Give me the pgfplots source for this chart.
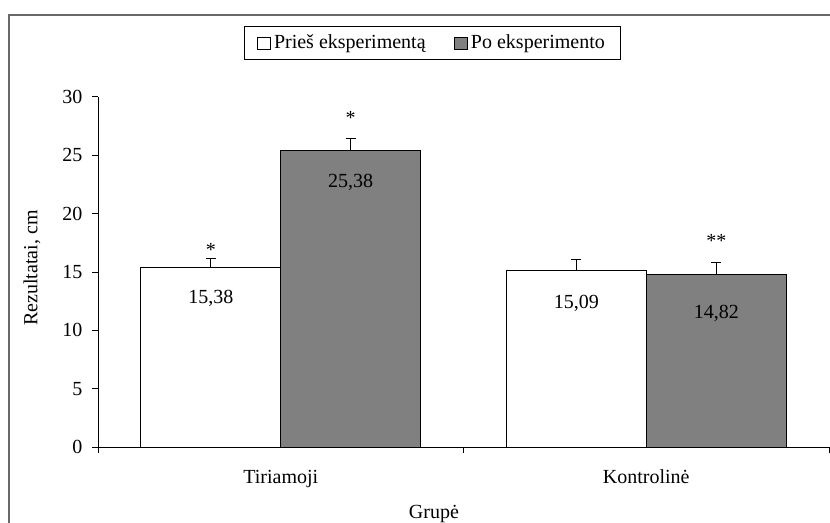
\documentclass[border=0pt]{standalone}
\usepackage{fontspec}
\setmainfont{Liberation Serif}
\usepackage{pgfplots}
\pgfplotsset{compat=1.18}
\definecolor{bargray}{RGB}{128,128,128}
\definecolor{framegray}{RGB}{105,105,105}
\newcommand{\chartfont}{\fontsize{15pt}{18pt}\selectfont}
\begin{document}
\chartfont
\begin{tikzpicture}
\path[use as bounding box] (0pt,0pt) rectangle (622.5pt,-392.25pt);
\draw[framegray, line width=0.8pt] (6.75pt,-400pt) -- (6.75pt,-11.25pt) -- (630pt,-11.25pt);
\begin{axis}[
  at={(73.5pt,-335.25pt)}, anchor=south west,
  scale only axis, width=548.25pt, height=262.5pt,
  xmin=0, xmax=2, ymin=0, ymax=30,
  axis x line*=bottom, axis y line*=left,
  axis line style={line width=0.75pt, -},
  ytick={0,5,10,15,20,25,30},
  xtick={0.5,1.5}, xticklabels={Tiriamoji,Kontrolinė},
  minor xtick={0,1,2},
  major x tick style={draw=none},
  tick align=outside,
  major tick length=4.5pt, minor tick length=4.5pt,
  tick style={line width=0.75pt, black},
  /pgf/number format/assume math mode=true,
  tick label style={font=\chartfont},
  xticklabel style={yshift=-7.5pt},
  yticklabel style={xshift=-2pt},
  label style={font=\chartfont},
  xlabel={Grupė},
  xlabel style={at={(axis description cs:0.4596,-0.203)}, anchor=base},
  ylabel={Rezultatai, cm},
  ylabel style={at={(axis description cs:-0.0903,0.511)}, anchor=center},
  legend columns=2,
  legend style={at={(rel axis cs:0.4575,1.154)}, anchor=center,
    draw=black, line width=0.75pt, fill=white, font=\chartfont,
    inner xsep=9.5pt, inner ysep=5pt,
    nodes={inner xsep=2pt, inner ysep=1pt},
    /tikz/every even column/.append style={column sep=19.5pt}},
  legend cell align=left,
]
\addlegendimage{legend image code/.code={\draw[fill=white, draw=black, line width=0.75pt] (0pt,-4.5pt) rectangle (9.75pt,4.5pt);}}
\addlegendentry{Prieš eksperimentą}
\addlegendimage{legend image code/.code={\draw[fill=bargray, draw=black, line width=0.75pt] (0pt,-4.5pt) rectangle (9.75pt,4.5pt);}}
\addlegendentry{Po eksperimento}

\addplot[ybar, forget plot, bar width=0.383, bar shift=0, fill=white, draw=black, line width=0.75pt,
  error bars/.cd, y dir=plus, y explicit, error mark=-,
  error bar style={line width=0.75pt, black},
  error mark options={rotate=90, mark size=3.75pt, line width=0.75pt, black}]
  coordinates {(0.3085,15.38) +- (0,0.80) (1.3085,15.09) +- (0,0.94)};
\addplot[ybar, forget plot, bar width=0.383, bar shift=0, fill=bargray, draw=black, line width=0.75pt,
  error bars/.cd, y dir=plus, y explicit, error mark=-,
  error bar style={line width=0.75pt, black},
  error mark options={rotate=90, mark size=3.75pt, line width=0.75pt, black}]
  coordinates {(0.6915,25.38) +- (0,1.03) (1.6915,14.82) +- (0,0.98)};

\node[anchor=center, font=\chartfont] at (axis cs:0.3085,12.77) {15,38};
\node[anchor=center, font=\chartfont] at (axis cs:0.6915,22.71) {25,38};
\node[anchor=center, font=\chartfont] at (axis cs:1.3085,12.34) {15,09};
\node[anchor=center, font=\chartfont] at (axis cs:1.6915,11.49) {14,82};
\node[anchor=base, font=\chartfont] at (axis cs:0.3085,16.37) {*};
\node[anchor=base, font=\chartfont] at (axis cs:0.6915,27.6) {*};
\node[anchor=base, font=\chartfont] at (axis cs:1.6915,17.06) {**};
\end{axis}
\end{tikzpicture}
\end{document}
